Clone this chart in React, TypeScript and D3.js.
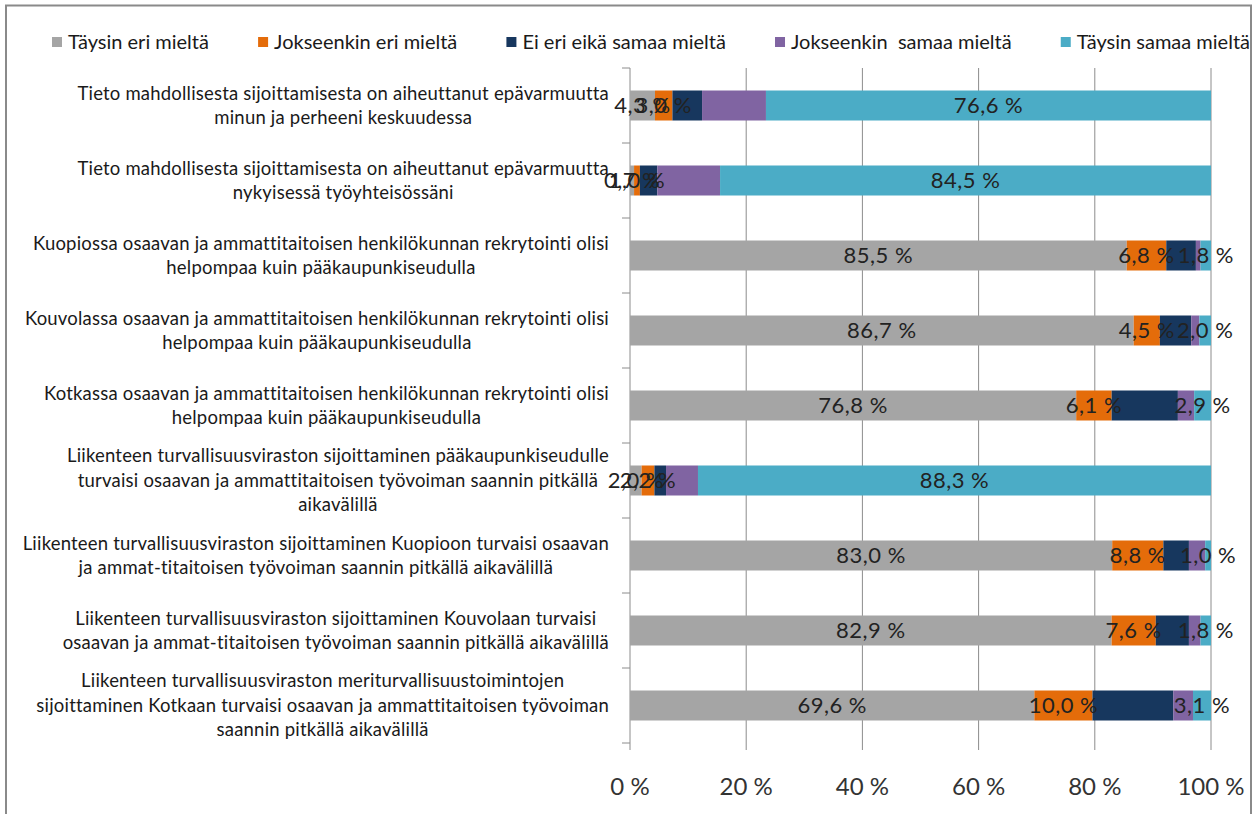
import React, { useEffect, useRef } from "react";
import * as d3 from "d3";

// Kategoriat (rivinvaihdot kuten alkuperäisessä)
const categories = [
  "Tieto mahdollisesta sijoittamisesta on aiheuttanut epävarmuutta\nminun ja perheeni keskuudessa",
  "Tieto mahdollisesta sijoittamisesta on aiheuttanut epävarmuutta\nnykyisessä työyhteisössäni",
  "Kuopiossa osaavan ja ammattitaitoisen henkilökunnan rekrytointi olisi\nhelpompaa kuin pääkaupunkiseudulla",
  "Kouvolassa osaavan ja ammattitaitoisen henkilökunnan rekrytointi olisi\nhelpompaa kuin pääkaupunkiseudulla",
  "Kotkassa osaavan ja ammattitaitoisen henkilökunnan rekrytointi olisi\nhelpompaa kuin pääkaupunkiseudulla",
  "Liikenteen turvallisuusviraston sijoittaminen pääkaupunkiseudulle\nturvaisi osaavan ja ammattitaitoisen työvoiman saannin pitkällä\naikavälillä",
  "Liikenteen turvallisuusviraston sijoittaminen Kuopioon turvaisi osaavan\nja ammat-titaitoisen työvoiman saannin pitkällä aikavälillä",
  "Liikenteen turvallisuusviraston sijoittaminen Kouvolaan turvaisi\nosaavan ja ammat-titaitoisen työvoiman saannin pitkällä aikavälillä",
  "Liikenteen turvallisuusviraston meriturvallisuustoimintojen\nsijoittaminen Kotkaan turvaisi osaavan ja ammattitaitoisen työvoiman\nsaannin pitkällä aikavälillä",
];

const seriesNames = [
  "Täysin eri mieltä",
  "Jokseenkin eri mieltä",
  "Ei eri eikä samaa mieltä",
  "Jokseenkin  samaa mieltä",
  "Täysin samaa mieltä",
];
const seriesColors = ["#a5a5a5", "#e46c0a", "#17375e", "#8064a2", "#4bacc6"];

const taysinEri = [4.3, 0.7, 85.5, 86.7, 76.8, 2.0, 83.0, 82.9, 69.6];
const jokseenkinEri = [3.0, 1.0, 6.8, 4.5, 6.1, 2.2, 8.8, 7.6, 10.0];
const eiEriEikaSamaa = [5.1, 3.0, 5.1, 5.4, 11.4, 2.0, 4.4, 5.7, 13.9];
const jokseenkinSamaa = [11.0, 10.8, 0.8, 1.4, 2.8, 5.5, 2.8, 2.0, 3.4];
const taysinSamaa = [76.6, 84.5, 1.8, 2.0, 2.9, 88.3, 1.0, 1.8, 3.1];

// sarjat, joille näytetään arvot
const labelledSeries = [0, 1, 4];

const xTicks = [0, 20, 40, 60, 80, 100];

const FONT = "Lato, 'Noto Sans', sans-serif";

export default function App() {
  const svgRef = useRef<SVGSVGElement>(null);

  useEffect(() => {
    if (!svgRef.current) return;
    const svg = d3.select(svgRef.current);
    svg.selectAll("*").remove();

    const width = 1258;
    const height = 814;
    const plot = { left: 630, right: 1211, top: 68, bottom: 743 };

    const allSeries = [taysinEri, jokseenkinEri, eiEriEikaSamaa, jokseenkinSamaa, taysinSamaa];
    const table = categories.map((c, i) => {
      const row: Record<string, number | string> = { cat: c };
      seriesNames.forEach((s, j) => (row[s] = allSeries[j][i]));
      return row;
    });

    const stacked = d3.stack<any>().keys(seriesNames)(table);

    const x = d3.scaleLinear().domain([0, 100]).range([plot.left, plot.right]);
    const y = d3
      .scaleBand<string>()
      .domain(categories)
      .range([plot.top, plot.bottom])
      .paddingInner(0.6)
      .paddingOuter(0.3);

    svg.attr("width", width).attr("height", height).style("font-family", FONT);

    svg
      .append("rect")
      .attr("width", width)
      .attr("height", height)
      .attr("fill", "#fff");

    // ulkokehys
    svg
      .append("rect")
      .attr("x", 6)
      .attr("y", 5.5)
      .attr("width", 1245)
      .attr("height", 840)
      .attr("fill", "none")
      .attr("stroke", "#8a8a8a")
      .attr("stroke-width", 2);

    // pystysuorat ruudukkoviivat
    svg
      .append("g")
      .selectAll("line")
      .data(xTicks.filter((t) => t > 0))
      .join("line")
      .attr("x1", (d) => x(d))
      .attr("x2", (d) => x(d))
      .attr("y1", plot.top)
      .attr("y2", plot.bottom + 7)
      .attr("stroke", "#8c8c8c")
      .attr("stroke-width", 1);

    // y-akseli ja sen tikit
    svg
      .append("line")
      .attr("x1", plot.left)
      .attr("x2", plot.left)
      .attr("y1", plot.top)
      .attr("y2", plot.bottom + 7)
      .attr("stroke", "#8c8c8c");

    const step = y.step();
    const yTickPos = categories.map((c) => (y(c) ?? 0) - (step * y.paddingInner()) / 2);
    yTickPos.push(plot.bottom);
    svg
      .append("g")
      .selectAll("line")
      .data(yTickPos)
      .join("line")
      .attr("x1", plot.left - 8)
      .attr("x2", plot.left)
      .attr("y1", (d) => d)
      .attr("y2", (d) => d)
      .attr("stroke", "#8c8c8c");

    // pinotut palkit
    stacked.forEach((layer, si) => {
      svg
        .append("g")
        .attr("fill", seriesColors[si])
        .selectAll("rect")
        .data(layer)
        .join("rect")
        .attr("x", (d) => x(d[0]))
        .attr("width", (d) => x(d[1]) - x(d[0]))
        .attr("y", (d) => y(d.data.cat as string) ?? 0)
        .attr("height", y.bandwidth());
    });

    // arvotunnisteet
    const fmt = (v: number) => d3.format(".1f")(v).replace(".", ",") + " %";
    labelledSeries.forEach((si) => {
      svg
        .append("g")
        .selectAll("text")
        .data(stacked[si])
        .join("text")
        .attr("x", (d) => x((d[0] + d[1]) / 2))
        .attr("y", (d) => (y(d.data.cat as string) ?? 0) + y.bandwidth() / 2)
        .attr("dy", "0.36em")
        .attr("text-anchor", "middle")
        .style("font-size", "22px")
        .style("letter-spacing", "0.5px")
        .attr("fill", "#222")
        .text((d) => fmt(d[1] - d[0]));
    });

    // kategorioiden nimet: lohko tasataan oikealle, rivit keskitetään lohkoon
    const labelRight = 609;
    const catG = svg.append("g");
    categories.forEach((c) => {
      const lines = c.split("\n");
      const cy = (y(c) ?? 0) + y.bandwidth() / 2;
      const lh = 24.5;
      const t = catG
        .append("text")
        .attr("text-anchor", "middle")
        .attr("fill", "#1a1a1a")
        .style("font-size", "18.5px")
        .style("letter-spacing", "0.2px");
      const spans = lines.map((ln, i) =>
        t
          .append("tspan")
          .attr("y", cy + (i - (lines.length - 1) / 2) * lh)
          .attr("dy", "0.35em")
          .text(ln)
      );
      const maxW = d3.max(spans, (s) => (s.node() as SVGTSpanElement).getComputedTextLength()) ?? 0;
      spans.forEach((s) => s.attr("x", labelRight - maxW / 2));
    });

    // x-akselin tekstit
    svg
      .append("g")
      .selectAll("text")
      .data(xTicks)
      .join("text")
      .attr("x", (d) => x(d))
      .attr("y", 795)
      .attr("text-anchor", "middle")
      .attr("fill", "#333")
      .style("font-size", "24px")
      .text((d) => `${d} %`);

    // selite: tasataan välille 52…1250
    const legend = svg.append("g");
    const legStart = 52;
    const legEnd = 1250;
    const items = seriesNames.map((name, i) => {
      const g = legend.append("g");
      g.append("rect")
        .attr("x", 0)
        .attr("y", 37)
        .attr("width", 10)
        .attr("height", 10)
        .attr("fill", seriesColors[i]);
      const t = g
        .append("text")
        .attr("x", 16)
        .attr("y", 42)
        .attr("dy", "0.35em")
        .attr("fill", "#1a1a1a")
        .style("font-size", "20px")
        .style("white-space", "pre")
        .attr("xml:space", "preserve")
        .text(name);
      const w = (t.node() as SVGTextElement).getComputedTextLength();
      return { g, w: 16 + w };
    });
    const total = d3.sum(items, (d) => d.w);
    const gap = (legEnd - legStart - total) / (items.length - 1);
    let lx = legStart;
    items.forEach((it) => {
      it.g.attr("transform", `translate(${lx},0)`);
      lx += it.w + gap;
    });
  }, []);

  return (
    <div style={{ position: "absolute", left: 0, top: 0 }}>
      <svg ref={svgRef} />
    </div>
  );
}
